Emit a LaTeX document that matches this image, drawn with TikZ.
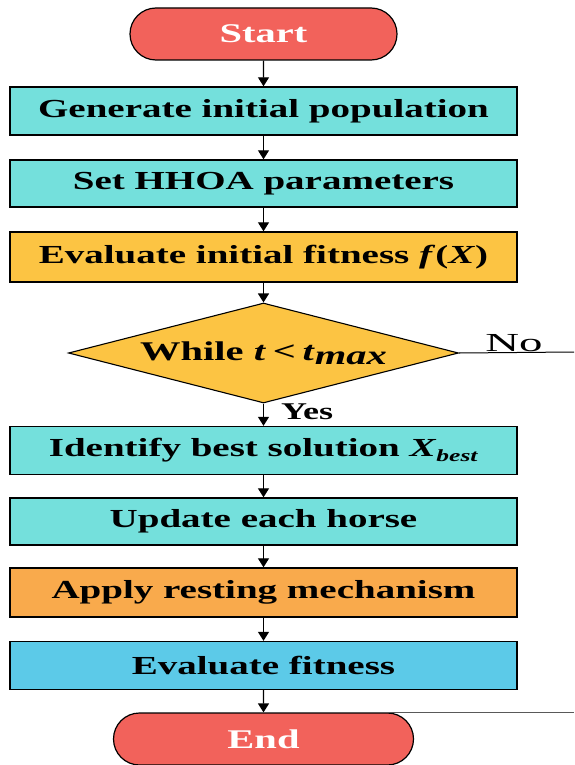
\documentclass[tikz,border=0pt]{standalone}
\usepackage{fontspec}
\setmainfont{Liberation Serif}[FakeStretch=1.5]
\usetikzlibrary{shapes.geometric,shapes.misc,arrows.meta}
\definecolor{pillred}{HTML}{F2625B}
\definecolor{teal}{HTML}{74E0DC}
\definecolor{gold}{HTML}{FCC443}
\definecolor{amber}{HTML}{F9AA4C}
\definecolor{sky}{HTML}{5CCAE8}
\tikzset{
  box/.style={draw=black, line width=1.4pt, minimum width=507pt, minimum height=48pt,
    inner sep=0pt, font=\fontsize{26}{30}\selectfont\bfseries},
  pill/.style={draw=black, line width=1.2pt, rounded rectangle, minimum height=52pt,
    inner sep=0pt, fill=pillred, text=white, font=\fontsize{27}{30}\selectfont\bfseries},
  flow/.style={-{Triangle[length=9pt,width=11pt]}, line width=1.3pt},
  exit/.style={line width=1pt},
}
\begin{document}
\begin{tikzpicture}[x=1pt,y=-1pt]
\useasboundingbox (0,0) rectangle (574,765);
\fill[white] (0,0) rectangle (574,765);

\node[pill, minimum width=267pt] (start) at (263.5,34) {Start};
\node[box, fill=teal] (gen) at (263.5,111) {Generate initial population};
\node[box, fill=teal, minimum height=47pt] (set) at (263.5,183.5) {Set HHOA parameters};
\node[box, fill=gold, minimum height=50pt] (init) at (263.5,257)
  {Evaluate initial fitness \textit{f}(\textit{X})};
\node[diamond, draw=black, line width=1.1pt, fill=gold, aspect=3.9,
  minimum width=390pt, minimum height=100pt, inner sep=0pt,
  font=\fontsize{27}{30}\selectfont\bfseries] (loop) at (263.5,353)
  {While \textit{t}\hspace{0.25em}<\hspace{0.25em}\textit{t}\raisebox{-0.35ex}{\textit{max}}};
\node[box, fill=teal] (best) at (263.5,450.5)
  {Identify best solution \textit{X}\raisebox{-0.4ex}{\fontsize{17}{19}\selectfont\textit{best}}};
\node[box, fill=teal, minimum height=47pt] (upd) at (263.5,521.5) {Update each horse};
\node[box, fill=amber, minimum height=49pt] (rest) at (263.5,592.5) {Apply resting mechanism};
\node[box, fill=sky] (eval) at (263.5,665.5) {Evaluate fitness};
\node[pill, minimum width=300pt] (end) at (263.5,739) {End};

\draw[flow] (start) -- (gen);
\draw[flow] (gen) -- (set);
\draw[flow] (set) -- (init);
\draw[flow] (init) -- (loop);
\draw[flow] (loop) -- (best);
\draw[flow] (best) -- (upd);
\draw[flow] (upd) -- (rest);
\draw[flow] (rest) -- (eval);
\draw[flow] (eval) -- (end);

\node[font=\fontsize{24}{26}\selectfont\bfseries, anchor=base west, inner sep=0pt]
  (yes) at (281,419) {Yes};

\coordinate (noedge) at (574,352);
\draw[exit] (loop.east) -- (noedge);
\node[font=\fontsize{26}{28}\selectfont, anchor=base, inner sep=0pt]
  (no) at (514,351) {\scalebox{1.2}[1]{No}};

\coordinate (endjoin) at (386,712.5);
\coordinate (endedge) at (574,712.5);
\draw[exit, draw=black!65] (endjoin) -- (endedge);
\end{tikzpicture}
\end{document}
